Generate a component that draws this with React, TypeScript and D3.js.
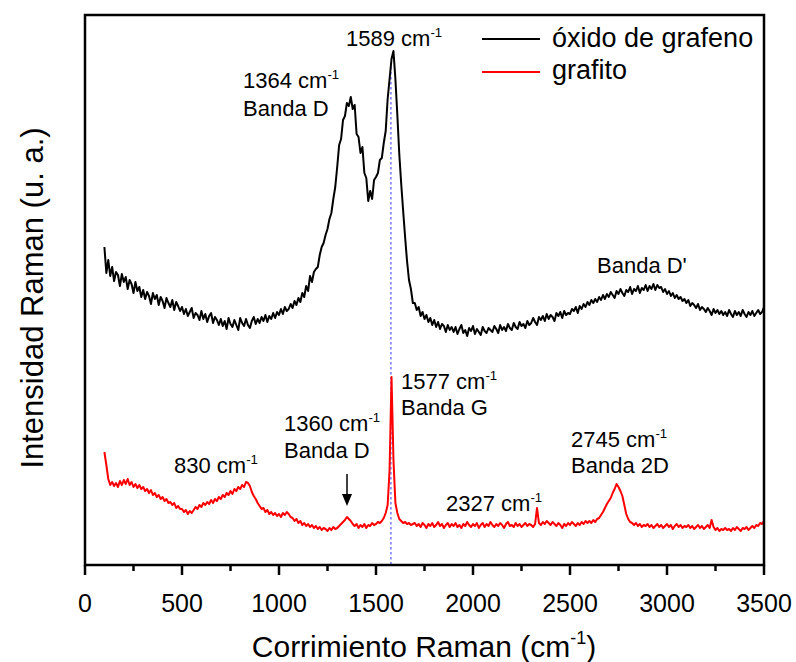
import React from "react";
import * as d3 from "d3";

// Raman shift grid (cm^-1), 10 cm^-1 sampling
const ramanShift: number[] = d3.range(100, 3501, 10);

// óxido de grafeno intensity (a.u., offset upward)
const oxidoGrafeno: number[] = [
  318, 292, 305, 289, 298, 284, 293, 290, 279, 291, 283, 288, 276, 285, 281, 272, 283, 274, 278, 268,
  275, 266, 273, 269, 261, 272, 266, 270, 260, 268, 264, 257, 267, 262, 258, 265, 255, 263, 259, 254,
  258, 251, 256, 249, 253, 257, 247, 252, 250, 245, 254, 246, 251, 243, 249, 252, 242, 248, 245, 240,
  246, 239, 244, 236, 247, 241, 238, 245, 240, 235, 247, 242, 239, 246, 240, 237, 244, 248, 241, 246,
  242, 248, 244, 250, 243, 249, 246, 252, 247, 253, 250, 256, 251, 258, 254, 256, 261, 257, 264, 260,
  267, 263, 272, 268, 279, 274, 289, 283, 293, 296, 298, 310, 318, 322, 330, 336, 346, 352, 366, 378,
  398, 420, 426, 445, 449, 462, 459, 468, 456, 460, 431, 428, 412, 418, 392, 387, 364, 374, 366, 385,
  388, 392, 405, 407, 422, 434, 466, 486, 506, 514, 486, 450, 411, 381, 354, 328, 304, 285, 276, 262,
  262, 255, 258, 249, 253, 246, 250, 243, 247, 240, 245, 238, 243, 236, 241, 239, 233, 240, 235, 238,
  233, 238, 231, 236, 240, 232, 235, 229, 237, 234, 239, 231, 236, 233, 230, 238, 234, 232, 237, 235,
  233, 239, 236, 232, 240, 235, 238, 234, 241, 237, 235, 242, 238, 236, 243, 239, 241, 237, 244, 240,
  242, 247, 243, 240, 248, 245, 249, 244, 251, 246, 250, 248, 244, 252, 249, 253, 247, 254, 250, 252,
  251, 256, 254, 258, 252, 259, 256, 261, 258, 263, 260, 265, 262, 266, 263, 268, 265, 270, 266, 271,
  268, 273, 270, 267, 274, 271, 276, 272, 269, 275, 273, 278, 271, 276, 274, 279, 272, 277, 275, 280,
  274, 279, 276, 281, 275, 280, 277, 278, 273, 276, 271, 274, 269, 272, 267, 270, 266, 268, 264, 266,
  262, 265, 259, 262, 260, 257, 261, 255, 258, 256, 253, 257, 254, 250, 256, 252, 255, 251, 254, 250,
  253, 249, 255, 251, 248, 254, 250, 253, 249, 255, 251, 248, 253, 250, 254, 249, 252, 255, 251, 253,
  258,
];

// grafito intensity (a.u.)
const grafito: number[] = [
  113, 100, 86, 80, 83, 79, 82, 78, 84, 80, 85, 81, 86, 80, 83, 78, 81, 77, 80, 76,
  78, 74, 76, 72, 75, 70, 72, 68, 70, 66, 68, 64, 66, 62, 63, 60, 62, 57, 59, 56,
  56, 53, 55, 51, 54, 52, 55, 58, 56, 60, 58, 62, 60, 63, 61, 65, 62, 66, 64, 68,
  66, 70, 68, 72, 70, 74, 71, 76, 74, 78, 76, 80, 78, 83, 82, 79, 73, 69, 66, 62,
  59, 56, 57, 53, 55, 51, 53, 50, 52, 49, 51, 48, 52, 50, 53, 51, 48, 47, 44, 46,
  42, 44, 40, 42, 39, 41, 38, 40, 37, 39, 36, 38, 35, 37, 36, 34, 37, 35, 38, 36,
  37, 39, 41, 43, 45, 48, 46, 44, 41, 39, 41, 37, 40, 38, 41, 37, 40, 39, 42, 40,
  41, 43, 42, 44, 47, 52, 60, 95, 188, 105, 62, 52, 46, 44, 42, 43, 41, 42, 40, 41,
  42, 39, 41, 38, 42, 40, 37, 41, 39, 42, 38, 40, 43, 39, 41, 37, 40, 42, 38, 41,
  39, 42, 38, 40, 37, 41, 39, 43, 40, 38, 41, 39, 42, 37, 40, 42, 38, 41, 39, 43,
  40, 38, 41, 39, 42, 40, 37, 41, 43, 39, 40, 38, 42, 39, 41, 38, 40, 42, 39, 41,
  40, 38, 41, 57, 42, 40, 43, 41, 44, 42, 40, 43, 41, 39, 42, 40, 37, 41, 39, 42,
  40, 43, 41, 39, 42, 40, 43, 41, 44, 42, 44, 42, 45, 43, 46, 47, 50, 53, 57, 61,
  64, 67, 72, 76, 81, 78, 74, 69, 60, 51, 46, 43, 42, 40, 42, 39, 41, 38, 40, 39,
  41, 38, 40, 37, 39, 41, 38, 40, 37, 39, 41, 38, 40, 36, 39, 41, 38, 40, 37, 39,
  38, 40, 37, 39, 36, 38, 40, 37, 39, 36, 38, 40, 37, 45, 38, 35, 37, 34, 36, 35,
  37, 35, 36, 34, 37, 35, 38, 36, 34, 37, 36, 38, 35, 37, 39, 37, 40, 39, 42, 41,
  44,
];

const legendLabels = ["óxido de grafeno", "grafito"];
const seriesColors = ["#000000", "#ff0000"];
const xDomain: [number, number] = [0, 3500];
const yDomain: [number, number] = [0, 550];
const majorTicks = [0, 500, 1000, 1500, 2000, 2500, 3000, 3500];
const minorTicks = [250, 750, 1250, 1750, 2250, 2750, 3250];
const guideShift = 1577;

const FONT = "'Liberation Sans', Arial, Helvetica, sans-serif";

const M = { left: 85, top: 15, right: 764, bottom: 565 };

function CmLabel({ x, y, value, size }: { x: number; y: number; value: string; size: number }) {
  return (
    <text x={x} y={y} fontSize={size} fontFamily={FONT} fill="#000">
      {value} cm
      <tspan fontSize={size * 0.6} dy={-size * 0.42}>-1</tspan>
    </text>
  );
}

export default function App() {
  const x = d3.scaleLinear().domain(xDomain).range([M.left, M.right]);
  const y = d3.scaleLinear().domain(yDomain).range([M.bottom, M.top]);

  const line = d3
    .line<number>()
    .x((_, i) => x(ramanShift[i]))
    .y((d) => y(d));

  const annSize = 22;

  return (
    <svg
      width={796}
      height={662}
      style={{ position: "absolute", left: 0, top: 0, background: "#fff" }}
    >
      <rect x={0} y={0} width={796} height={662} fill="#fff" />
      {/* guide line */}
      <line
        x1={x(guideShift)}
        x2={x(guideShift)}
        y1={62}
        y2={M.bottom}
        stroke="#3333ff"
        strokeWidth={1}
        strokeDasharray="2.5,2.5"
      />
      {/* series */}
      <path d={line(grafito) || ""} fill="none" stroke={seriesColors[1]} strokeWidth={2} strokeLinejoin="round" />
      <path d={line(oxidoGrafeno) || ""} fill="none" stroke={seriesColors[0]} strokeWidth={2} strokeLinejoin="round" />

      {/* frame */}
      <rect
        x={M.left}
        y={M.top}
        width={M.right - M.left}
        height={M.bottom - M.top}
        fill="none"
        stroke="#000"
        strokeWidth={2.5}
      />
      {/* ticks */}
      {majorTicks.map((t) => (
        <g key={"M" + t}>
          <line x1={x(t)} x2={x(t)} y1={M.bottom} y2={M.bottom + 10} stroke="#000" strokeWidth={2.5} />
          <text x={x(t)} y={612} textAnchor="middle" fontSize={25} fontFamily={FONT}>
            {t}
          </text>
        </g>
      ))}
      {minorTicks.map((t) => (
        <line key={"m" + t} x1={x(t)} x2={x(t)} y1={M.bottom} y2={M.bottom + 6} stroke="#000" strokeWidth={2.5} />
      ))}

      {/* axis titles */}
      <text x={424} y={657} textAnchor="middle" fontSize={30} fontFamily={FONT}>
        Corrimiento Raman (cm
        <tspan fontSize={18} dy={-13}>-1</tspan>
        <tspan dy={13}>)</tspan>
      </text>
      <text
        transform={`translate(43, 298) rotate(-90)`}
        textAnchor="middle"
        fontSize={31}
        fontFamily={FONT}
      >
        Intensidad Raman (u. a.)
      </text>

      {/* legend */}
      {legendLabels.map((lab, i) => (
        <g key={lab}>
          <line x1={482} x2={540} y1={39 + i * 33} y2={39 + i * 33} stroke={seriesColors[i]} strokeWidth={2} />
          <text x={552} y={47 + i * 32} fontSize={27} fontFamily={FONT}>
            {lab}
          </text>
        </g>
      ))}

      {/* annotations */}
      <CmLabel x={346} y={46} value="1589" size={annSize} />
      <CmLabel x={243} y={88} value="1364" size={annSize} />
      <text x={243} y={116} fontSize={annSize} fontFamily={FONT}>Banda D</text>
      <text x={597} y={273} fontSize={annSize} fontFamily={FONT}>Banda D'</text>
      <CmLabel x={401} y={389} value="1577" size={annSize} />
      <text x={401} y={415} fontSize={annSize} fontFamily={FONT}>Banda G</text>
      <CmLabel x={174} y={473} value="830" size={annSize} />
      <CmLabel x={284} y={431} value="1360" size={annSize} />
      <text x={284} y={458} fontSize={annSize} fontFamily={FONT}>Banda D</text>
      <CmLabel x={446} y={511} value="2327" size={annSize} />
      <CmLabel x={571} y={447} value="2745" size={annSize} />
      <text x={571} y={473} fontSize={annSize} fontFamily={FONT}>Banda 2D</text>

      {/* arrow */}
      <line x1={347} x2={347} y1={474} y2={496} stroke="#000" strokeWidth={1.5} />
      <path d="M342,494 L352,494 L347,506 Z" fill="#000" />
    </svg>
  );
}
